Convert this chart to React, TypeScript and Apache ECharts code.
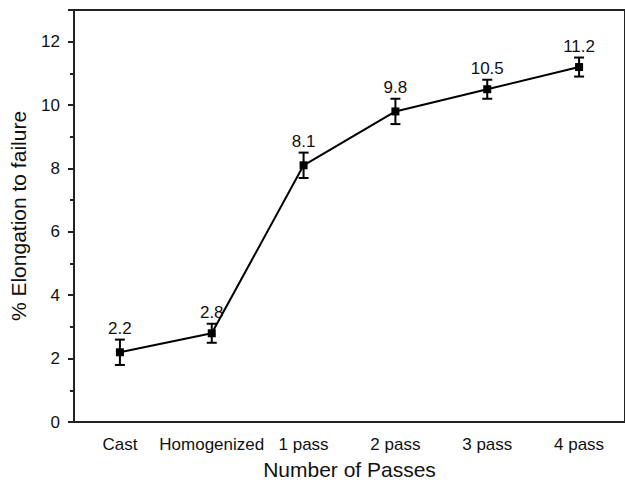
import React, { useEffect, useRef } from "react";
import * as echarts from "echarts";

const categories = ["Cast", "Homogenized", "1 pass", "2 pass", "3 pass", "4 pass"];
const elongation = [2.2, 2.8, 8.1, 9.8, 10.5, 11.2];
const errors = [0.4, 0.3, 0.4, 0.4, 0.3, 0.3];
const yTicks = { min: 0, max: 13, interval: 2 };

const FONT = "Liberation Sans, Arial, sans-serif";

export default function App() {
  const ref = useRef<HTMLDivElement>(null);
  useEffect(() => {
    if (!ref.current) return;
    const chart = echarts.init(ref.current, null, { renderer: "svg" });
    const errData = categories.map((_, i) => [i, elongation[i], errors[i]]);
    chart.setOption({
      animation: false,
      backgroundColor: "#fff",
      grid: {
        left: 71,
        top: 10,
        width: 556,
        height: 415,
        show: true,
        borderColor: "#222",
        borderWidth: 2,
        backgroundColor: "transparent",
      },
      xAxis: {
        type: "category",
        data: categories,
        boundaryGap: true,
        name: "Number of Passes",
        nameLocation: "middle",
        nameGap: 37,
        nameTextStyle: { fontSize: 21, color: "#111", fontFamily: FONT },
        axisLine: { lineStyle: { color: "#222", width: 2 } },
        axisTick: { alignWithLabel: true, length: 6, lineStyle: { color: "#222", width: 2 } },
        axisLabel: { fontSize: 17, color: "#111", margin: 14, interval: 0, fontFamily: FONT },
        splitLine: { show: false },
      },
      yAxis: {
        type: "value",
        min: yTicks.min,
        max: yTicks.max,
        interval: yTicks.interval,
        name: "% Elongation to failure",
        nameLocation: "middle",
        nameGap: 45,
        nameTextStyle: { fontSize: 21, color: "#111", fontFamily: FONT },
        axisLine: { show: true, lineStyle: { color: "#222", width: 2 } },
        axisTick: { show: true, length: 6, lineStyle: { color: "#222", width: 2 } },
        minorTick: { show: true, splitNumber: 2, length: 4, lineStyle: { color: "#222", width: 2 } },
        axisLabel: { fontSize: 17, color: "#111", margin: 14, showMaxLabel: false, fontFamily: FONT },
        splitLine: { show: false },
      },
      series: [
        {
          type: "line",
          data: elongation,
          symbol: "rect",
          symbolSize: 8,
          itemStyle: { color: "#000" },
          lineStyle: { color: "#000", width: 2 },
          z: 3,
        },
        {
          type: "custom",
          data: errData,
          z: 4,
          renderItem: (params: any, api: any) => {
            const x = api.value(0);
            const y = api.value(1);
            const e = api.value(2);
            const top = api.coord([x, y + e]);
            const bot = api.coord([x, y - e]);
            const cap = 5;
            const ls = { stroke: "#000", lineWidth: 2 };
            return {
              type: "group",
              children: [
                { type: "line", shape: { x1: top[0], y1: top[1], x2: bot[0], y2: bot[1] }, style: ls },
                { type: "line", shape: { x1: top[0] - cap, y1: top[1], x2: top[0] + cap, y2: top[1] }, style: ls },
                { type: "line", shape: { x1: bot[0] - cap, y1: bot[1], x2: bot[0] + cap, y2: bot[1] }, style: ls },
                {
                  type: "text",
                  style: {
                    text: Number(y).toFixed(1),
                    x: top[0],
                    y: top[1] - 3,
                    align: "center",
                    verticalAlign: "bottom",
                    fontSize: 17,
                    fontFamily: FONT,
                    fill: "#111",
                  },
                },
              ],
            };
          },
        },
      ],
    });
    return () => chart.dispose();
  }, []);
  return (
    <div
      ref={ref}
      style={{ position: "fixed", left: 0, top: 0, width: 625, height: 485, background: "#fff" }}
    />
  );
}
